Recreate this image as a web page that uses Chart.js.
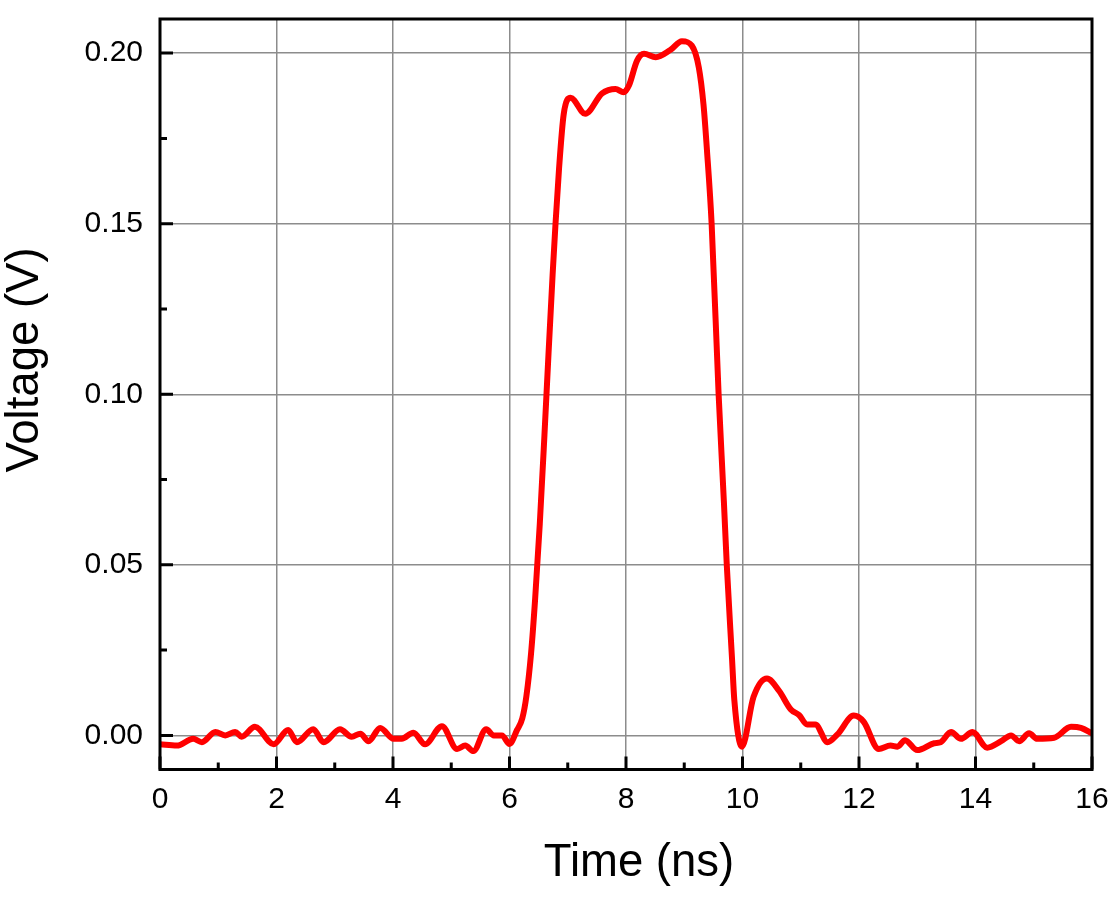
<!DOCTYPE html>
<html>
<head>
<meta charset="utf-8">
<script src="https://cdn.jsdelivr.net/npm/chart.js@4/dist/chart.umd.min.js"></script>
<style>
  html, body { margin: 0; padding: 0; background: #fff; }
  #wrap { width: 1112px; height: 898px; }
</style>
</head>
<body>
<div id="wrap"><canvas id="chart1"></canvas></div>
<script>
// values
var timeNs = [0, 0.29, 0.57, 0.72, 0.95, 1.12, 1.29, 1.40, 1.63, 1.95,
  2.20, 2.35, 2.63, 2.81, 3.09, 3.29, 3.44, 3.58, 3.78, 4.01,
  4.15, 4.35, 4.55, 4.84, 5.10, 5.24, 5.38, 5.60, 5.73, 5.87,
  6.00, 6.13, 6.22, 6.29, 6.37, 6.44, 6.52, 6.60, 6.67, 6.74,
  6.79, 6.85, 6.93, 7.05, 7.30, 7.59, 7.82, 7.96, 8.05, 8.19,
  8.31, 8.51, 8.76, 8.96, 9.13, 9.25, 9.33, 9.39, 9.47, 9.59,
  9.68, 9.73, 9.82, 9.86, 9.99, 10.19, 10.42, 10.63, 10.83, 10.97,
  11.11, 11.25, 11.46, 11.63, 11.91, 12.08, 12.34, 12.54, 12.66, 12.79,
  13.00, 13.29, 13.40, 13.58, 13.75, 13.95, 14.20, 14.44, 14.61, 14.75,
  14.92, 15.06, 15.35, 15.64, 15.81, 16.0];
var voltageV = [-0.0026, -0.003, -0.001, -0.002, 0.001, 0, 0.001, -0.0004, 0.0025, -0.0026,
  0.0016, -0.002, 0.0018, -0.002, 0.0018, -0.0004, 0.0005, -0.0017, 0.0022, -0.001,
  -0.001, 0.0008, -0.0026, 0.0027, -0.004, -0.003, -0.0046, 0.0018, 0, 0,
  -0.0025, 0.0016, 0.005, 0.0115, 0.024, 0.040, 0.062, 0.088, 0.112, 0.135,
  0.150, 0.166, 0.182, 0.1869, 0.1822, 0.1882, 0.1895, 0.1885, 0.1905, 0.1978,
  0.1998, 0.1988, 0.2009, 0.2035, 0.2022, 0.1958, 0.185, 0.1715, 0.150, 0.100,
  0.0687, 0.050, 0.0225, 0.0103, -0.0033, 0.0113, 0.0167, 0.013, 0.0076, 0.006,
  0.0032, 0.0032, -0.002, 0.0003, 0.0058, 0.004, -0.004, -0.003, -0.0033, -0.0014,
  -0.0043, -0.0023, -0.002, 0.001, -0.001, 0.001, -0.0036, -0.0017, 0, -0.0017,
  0.0006, -0.001, -0.0007, 0.0025, 0.0022, 0.0006];
var xTicks = [0, 2, 4, 6, 8, 10, 12, 14, 16];
var yTicks = [0, 0.05, 0.10, 0.15, 0.20];
var xTitle = 'Time (ns)';
var yTitle = 'Voltage (V)';

var points = timeNs.map(function (t, i) { return { x: t, y: voltageV[i] }; });

// frame, inward major/minor ticks and axis titles
var framePlugin = {
  id: 'frame',
  afterDraw: function (chart) {
    var c = chart.ctx, a = chart.chartArea;
    var xs = chart.scales.x, ys = chart.scales.y;
    c.save();
    c.strokeStyle = '#000';
    c.lineWidth = 3;
    c.beginPath();
    xTicks.forEach(function (v, i) {
      var px = xs.getPixelForValue(v);
      c.moveTo(px, a.bottom); c.lineTo(px, a.bottom - 13);
      if (i < xTicks.length - 1) {
        var mx = xs.getPixelForValue((v + xTicks[i + 1]) / 2);
        c.moveTo(mx, a.bottom); c.lineTo(mx, a.bottom - 7);
      }
    });
    yTicks.forEach(function (v, i) {
      var py = ys.getPixelForValue(v);
      c.moveTo(a.left, py); c.lineTo(a.left + 13, py);
      if (i < yTicks.length - 1) {
        var my = ys.getPixelForValue((v + yTicks[i + 1]) / 2);
        c.moveTo(a.left, my); c.lineTo(a.left + 7, my);
      }
    });
    c.stroke();
    c.strokeRect(a.left, a.top, a.right - a.left, a.bottom - a.top);

    c.fillStyle = '#000';
    c.font = '45.5px "Liberation Sans", Arial, sans-serif';
    c.textAlign = 'center';
    c.textBaseline = 'alphabetic';
    c.fillText(xTitle, (a.left + a.right) / 2 + 13, 876);
    c.translate(25, 360);
    c.rotate(-Math.PI / 2);
    c.textBaseline = 'middle';
    c.fillText(yTitle, 0, 0);
    c.restore();
  }
};

var ctx1 = document.getElementById('chart1').getContext('2d');
var chart1 = new Chart(ctx1, {
  type: 'line',
  data: {
    datasets: [{
      label: 'Voltage',
      data: points,
      borderColor: '#ff0000',
      borderWidth: 6,
      pointRadius: 0,
      cubicInterpolationMode: 'monotone',
      fill: false
    }]
  },
  options: {
    responsive: true,
    maintainAspectRatio: false,
    animation: false,
    layout: { padding: { top: 19, right: 20, left: 0, bottom: 0 } },
    plugins: {
      legend: { display: false },
      tooltip: { enabled: false }
    },
    scales: {
      x: {
        type: 'linear',
        min: 0,
        max: 16,
        afterBuildTicks: function (s) { s.ticks = xTicks.map(function (v) { return { value: v }; }); },
        afterFit: function (s) {
          s.height = 128.5;
          s.paddingLeft = 0; s.paddingRight = 0;
        },
        ticks: {
          color: '#000',
          padding: 12,
          font: { family: 'Liberation Sans, Arial', size: 30 },
          maxRotation: 0
        },
        grid: { color: '#8c8c8c', lineWidth: 1.5, drawTicks: false },
        border: { display: false }
      },
      y: {
        min: -0.01,
        max: 0.21,
        afterBuildTicks: function (s) { s.ticks = yTicks.map(function (v) { return { value: v }; }); },
        afterFit: function (s) {
          s.width = 160;
          s.paddingTop = 0; s.paddingBottom = 0;
        },
        ticks: {
          color: '#000',
          padding: 17,
          font: { family: 'Liberation Sans, Arial', size: 30 },
          callback: function (v) { return v.toFixed(2); }
        },
        grid: { color: '#8c8c8c', lineWidth: 1.5, drawTicks: false },
        border: { display: false }
      }
    }
  },
  plugins: [framePlugin]
});
</script>
</body>
</html>
